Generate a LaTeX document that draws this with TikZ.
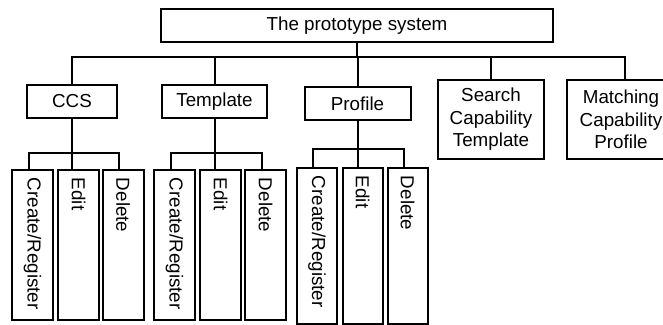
\documentclass[tikz,border=0pt]{standalone}
\usepackage{fontspec}
\setmainfont{Liberation Sans}
\usetikzlibrary{positioning}

\begin{document}
\begin{tikzpicture}[x=0.5pt,y=-0.5pt]
    \tikzstyle{n} = [rectangle, draw, line width=1pt, minimum height=16.5pt, inner sep=2pt, align=center, font=\fontsize{9.4}{11.2}\selectfont]
    \tikzstyle{leaf} = [n, rotate=-90, anchor=west, minimum height=20.5pt, text width=67pt, inner xsep=4pt, align=left]
    \tikzstyle{line} = [line width=1pt]
    \useasboundingbox (0,0) rectangle (663,325);
        % top level
        \node (sys) [n, minimum width=196pt] at (357,25.5) {The prototype system};
        \node (ccs) [n, minimum width=45pt] at (72,101.5) {CCS};
        \node (tpl) [n, minimum width=52.5pt] at (214.5,101.5) {Template};
        \node (pro) [n, minimum width=53pt] at (357.5,103.5) {Profile};
        \node (sea) [n, minimum width=53pt, minimum height=39.5pt] at (491,119.5) {Search\\Capability\\Template};
        \node (mat) [n, minimum width=54pt, minimum height=39.5pt] at (621,119.5) {Matching\\Capability\\Profile};
        % leaves
        \node (ccsC) [leaf] at (32.5,169) {Create/Register};
        \node (ccsE) [leaf] at (78.5,169) {Edit};
        \node (ccsD) [leaf] at (123,169) {Delete};
        \node (tplC) [leaf] at (174.5,169) {Create/Register};
        \node (tplE) [leaf] at (220.5,169) {Edit};
        \node (tplD) [leaf] at (265.5,169) {Delete};
        \node (proC) [leaf, text width=70pt, minimum height=20pt] at (317,167) {Create/Register};
        \node (proE) [leaf, text width=70pt, minimum height=20pt] at (362.5,167) {Edit};
        \node (proD) [leaf, text width=70pt, minimum height=20pt] at (407.5,167) {Delete};
        % bus lines
        \coordinate (top) at (357,57);
        \coordinate (ccsbus) at (ccs.south |- 0,153);
        \coordinate (tplbus) at (tpl.south |- 0,153);
        \coordinate (probus) at (pro.south |- 0,149);
        \draw[line] (sys) -- (top);
        \draw[line] (ccs.north) |- (top) -| ([xshift=2pt]mat.north);
        \draw[line] (tpl.north) -- (tpl.north |- top);
        \draw[line] (pro.north) -- (pro.north |- top);
        \draw[line] (sea.north) -- (sea.north |- top);
        \draw[line] (ccs.south) -- (ccs.south |- ccsE.west);
        \draw[line] ([xshift=-2pt]ccsC.west) |- (ccsbus) -| ([xshift=-2pt]ccsD.west);
        \draw[line] (tpl.south) -- (tpl.south |- tplE.west);
        \draw[line] ([xshift=-2pt]tplC.west) |- (tplbus) -| ([xshift=-2pt]tplD.west);
        \draw[line] (pro.south) -- (pro.south |- proE.west);
        \draw[line] ([xshift=-2pt]proC.west) |- (probus) -| ([xshift=-2pt]proD.west);
\end{tikzpicture}
\end{document}
